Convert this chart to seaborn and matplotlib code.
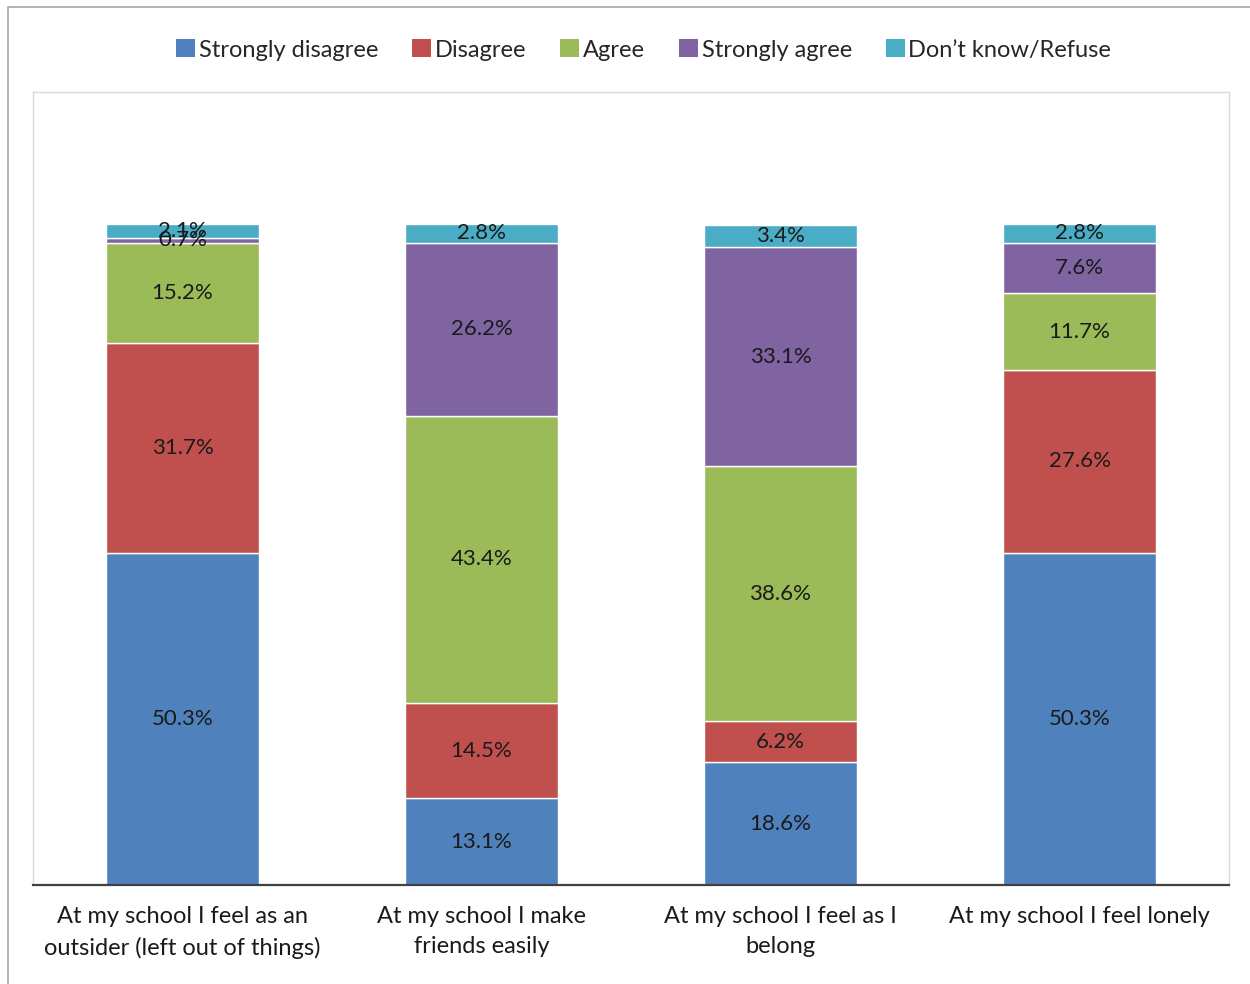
import numpy as np
import pandas as pd
import matplotlib
matplotlib.use("Agg")
import matplotlib.pyplot as plt
import seaborn as sns
from matplotlib.patches import Rectangle, Patch

# ---------------------------------------------------
# Data
# ---------------------------------------------------
categories = [
    "At my school I feel as an\noutsider (left out of things)",
    "At my school I make\nfriends easily",
    "At my school I feel as I\nbelong",
    "At my school I feel lonely",
]
series = ["Strongly disagree", "Disagree", "Agree", "Strongly agree", "Don\u2019t know/Refuse"]
strongly_disagree = [50.3, 13.1, 18.6, 50.3]
disagree = [31.7, 14.5, 6.2, 27.6]
agree = [15.2, 43.4, 38.6, 11.7]
strongly_agree = [0.7, 26.2, 33.1, 7.6]
dont_know = [2.1, 2.8, 3.4, 2.8]
colors = ["#4F81BD", "#C0504D", "#9BBB59", "#8064A2", "#4BACC6"]

values = [strongly_disagree, disagree, agree, strongly_agree, dont_know]

# ---------------------------------------------------
# Style
# ---------------------------------------------------
sns.set_style("white")
plt.rcParams["font.family"] = ["Lato", "DejaVu Sans"]

fig = plt.figure(figsize=(12.5, 9.84), dpi=100)
ax = fig.add_axes([33 / 1250, 99 / 984, 1196 / 1250, 793 / 984])

# outer chart border
fig.patches.append(Rectangle((8 / 1250, -0.01), 1.5, 1.0 - 7 / 984 + 0.01,
                             transform=fig.transFigure, fill=False,
                             edgecolor="#A6A6A6", linewidth=1.2))

# ---------------------------------------------------
# Stacked bars
# ---------------------------------------------------
bottom = np.zeros(len(categories))
for name, vals, col in zip(series, values, colors):
    df = pd.DataFrame({"cat": categories, "val": vals})
    sns.barplot(data=df, x="cat", y="val", color=col, bottom=bottom,
                width=0.51, ax=ax, saturation=1, label=name)
    ax.bar_label(ax.containers[-1], labels=[f"{v:.1f}%" for v in vals],
                 label_type="center", fontsize=16, color="#1a1a1a")
    bottom = bottom + np.array(vals)

ax.set_xlim(-0.5, 3.5)
ax.set_ylim(0, 120)
ax.set_yticks([])
ax.set_xlabel("")
ax.set_ylabel("")
ax.set_xticks(range(len(categories)))
ax.set_xticklabels(categories, linespacing=1.55)
ax.tick_params(axis="x", length=0, pad=15, labelsize=17, colors="#1a1a1a")

for s in ["left", "right", "top"]:
    ax.spines[s].set_color("#D9D9D9")
    ax.spines[s].set_linewidth(1.0)
ax.spines["bottom"].set_color("#404040")
ax.spines["bottom"].set_linewidth(1.6)

if ax.get_legend() is not None:
    ax.get_legend().remove()

handles = [Patch(facecolor=c, edgecolor="none") for c in colors]
fig.legend(handles, series, loc="center", bbox_to_anchor=(0.515, 1 - 50 / 984),
           ncol=5, frameon=False, fontsize=17, handlelength=0.8,
           handleheight=0.8, handletextpad=0.15, columnspacing=1.45)

fig.savefig("out.png", dpi=100)
